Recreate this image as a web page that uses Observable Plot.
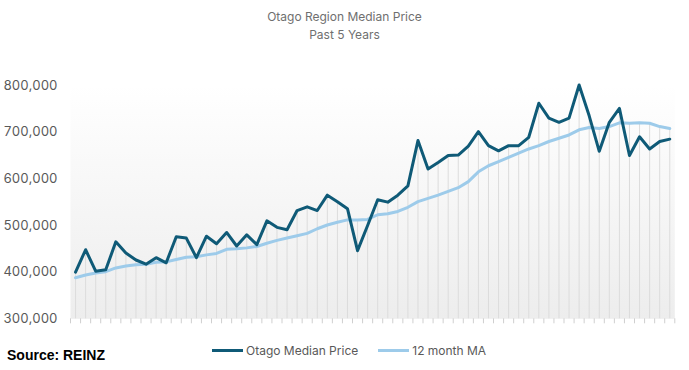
<!DOCTYPE html>
<html>
<head>
<meta charset="utf-8">
<script src="https://cdn.jsdelivr.net/npm/d3@7"></script>
<script src="https://cdn.jsdelivr.net/npm/@observablehq/plot@0.6"></script>
<style>
  body { margin: 0; background: #fff; font-family: Inter, "Noto Sans", sans-serif; }
  #wrap { position: relative; width: 689px; height: 370px; overflow: hidden; }
  #chart { position: absolute; left: 0; top: 0; }
  .title { position: absolute; left: 0; width: 689px; text-align: center; font-size: 12px; color: #6f6f6f; }
  #t1 { top: 9px; }
  #t2 { top: 27px; }
  #legend { position: absolute; top: 343px; left: 212px; font-size: 12px; color: #595959; display: flex; align-items: center; white-space: nowrap; }
  .sw { display: inline-block; width: 31px; height: 3px; margin-right: 3px; }
  #source { position: absolute; left: 7px; top: 347px; font-family: "Liberation Sans", Arial, sans-serif; font-weight: bold; font-size: 14px; color: #000; }
</style>
</head>
<body>
<div id="wrap">
  <div id="chart"></div>
  <div class="title" id="t1">Otago Region Median Price</div>
  <div class="title" id="t2">Past 5 Years</div>
  <div id="legend"></div>
  <div id="source">Source: REINZ</div>
</div>
<script>
// Monthly Otago median price (60 months)
const medianPrice = [
  400000, 448000, 402000, 405000, 465000, 441000, 426000, 417000, 431000, 420000,
  476000, 473000, 431000, 477000, 461000, 485000, 456000, 480000, 459000, 510000,
  496000, 491000, 532000, 540000, 532000, 565000, 551000, 536000, 446000, 500000,
  555000, 550000, 565000, 585000, 682000, 621000, 635000, 650000, 651000, 670000,
  701000, 671000, 660000, 671000, 671000, 689000, 762000, 730000, 721000, 730000,
  801000, 735000, 659000, 721000, 751000, 650000, 690000, 664000, 680000, 685000
];
// 12 month moving average
const movingAvg = [
  388000, 394000, 398000, 401000, 409000, 413000, 416000, 417000, 421000, 422000,
  427000, 432000, 433000, 437000, 440000, 449000, 450000, 452000, 455000, 462000,
  468000, 473000, 478000, 483000, 493000, 501000, 507000, 512000, 512000, 513000,
  523000, 525000, 530000, 539000, 551000, 558000, 565000, 573000, 581000, 594000,
  615000, 628000, 637000, 646000, 655000, 664000, 671000, 680000, 687000, 694000,
  705000, 710000, 708000, 712000, 720000, 719000, 720000, 719000, 712000, 708000
];
const yTicks = [300000, 400000, 500000, 600000, 700000, 800000];
const seriesNames = ["Otago Median Price", "12 month MA"];
const seriesColors = ["#0f5a77", "#9dcbea"];

const months = d3.range(medianPrice.length);
const data = months.map(i => ({
  i,
  price: medianPrice[i],
  ma: movingAvg[i],
  top: Math.max(medianPrice[i], movingAvg[i])
}));

const plot = Plot.plot({
  width: 689,
  height: 370,
  marginTop: 85,
  marginBottom: 51.7,
  marginLeft: 70,
  marginRight: 14.7,
  style: { fontFamily: "Inter, 'Noto Sans', sans-serif", fontSize: "13px", color: "#595959", background: "transparent" },
  x: { type: "linear", domain: [-0.5, months.length - 0.5] },
  y: { domain: [yTicks[0], yTicks[yTicks.length - 1]] },
  marks: [
    Plot.frame({ fill: "url(#bgGrad)", stroke: null }),
    Plot.ruleX(data, { x: "i", y1: yTicks[0], y2: "top", stroke: "#dcdcdc", strokeWidth: 1 }),
    Plot.axisX({ ticks: d3.range(-0.5, months.length, 1), tickFormat: () => "", tickSize: 5, stroke: "#cfcfcf", label: null }),
    Plot.axisY({ ticks: yTicks, tickFormat: d3.format(","), tickSize: 0, tickPadding: 13, fontSize: 13, label: null }),
    Plot.line(data, { x: "i", y: "ma", stroke: seriesColors[1], strokeWidth: 3 }),
    Plot.line(data, { x: "i", y: "price", stroke: seriesColors[0], strokeWidth: 3 })
  ]
});

d3.select(plot).insert("defs", ":first-child").html(
  '<linearGradient id="bgGrad" x1="0" y1="0" x2="0" y2="1">' +
  '<stop offset="0" stop-color="#ffffff"/><stop offset="1" stop-color="#ededed"/></linearGradient>'
);
document.getElementById("chart").appendChild(plot);

const legend = d3.select("#legend");
seriesNames.forEach((name, k) => {
  const item = legend.append("span").style("display", "inline-flex").style("align-items", "center")
    .style("margin-right", k === 0 ? "20px" : "0");
  item.append("span").attr("class", "sw").style("background", seriesColors[k]);
  item.append("span").text(name);
});
</script>
</body>
</html>
